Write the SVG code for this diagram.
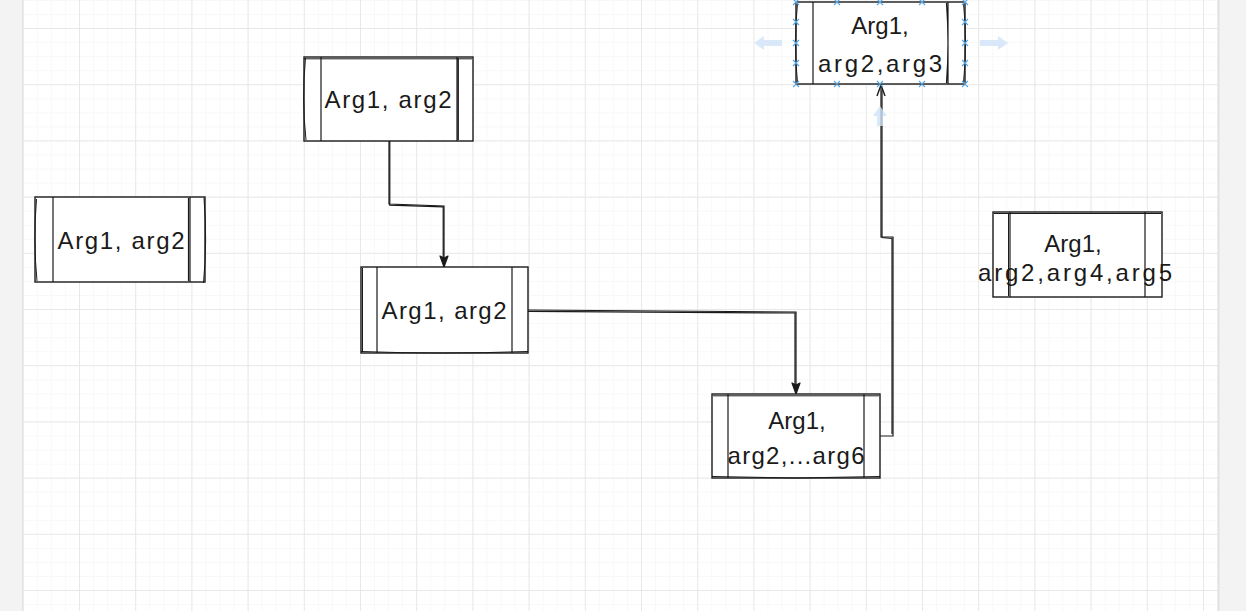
<svg xmlns="http://www.w3.org/2000/svg" width="1246" height="611" viewBox="0 0 1246 611">
  <defs>
    <pattern id="minor" patternUnits="userSpaceOnUse" x="22.8" y="0" width="14.05" height="14.05">
      <path d="M0 0.5H14.05M0.5 0V14.05" fill="none" stroke="#f8f8f8" stroke-width="1"/>
    </pattern>
    <pattern id="major" patternUnits="userSpaceOnUse" x="22.8" y="-28.2" width="56.2" height="56.2">
      <path d="M0 0.5H56.2M0.5 0V56.2" fill="none" stroke="#e8e8e8" stroke-width="1"/>
    </pattern>
    <marker id="arrDown" viewBox="0 0 12 14" refX="6" refY="13" markerWidth="12" markerHeight="14" markerUnits="userSpaceOnUse" orient="0">
      <path d="M2 2L6 13L10 2L6 4Z" fill="#1a1a1a" stroke="#1a1a1a" stroke-width="1.2" stroke-linejoin="round"/>
    </marker>
    <marker id="arrUp" viewBox="0 0 12 14" refX="6" refY="1" markerWidth="12" markerHeight="14" markerUnits="userSpaceOnUse" orient="0">
      <path d="M2 12L6 1L10 12" fill="none" stroke="#1a1a1a" stroke-width="1.4" stroke-linejoin="round"/>
    </marker>
  </defs>
  <style>
    .box { fill: #ffffff; stroke: #1a1a1a; stroke-width: 1.4; }
    .sk { fill: none; stroke: #1a1a1a; stroke-width: 1; }
    .in { fill: none; stroke: #1a1a1a; stroke-width: 1.2; }
    .lbl { font-family: "Liberation Sans", "DejaVu Sans", sans-serif; font-size: 24px; fill: #1a1a1a; text-anchor: middle; }
    .conn { fill: none; stroke: #1a1a1a; stroke-width: 1.2; }
    .h { stroke: #5aa9e6; stroke-width: 1.2; fill: none; }
    .ghost { fill: #cfe4f7; opacity: 0.8; }
  </style>

  <!-- background -->
  <rect x="0" y="0" width="1246" height="611" fill="#f3f3f3"/>
  <rect x="22" y="0" width="1196" height="611" fill="#ffffff"/>
  <rect x="22" y="0" width="1196" height="611" fill="url(#minor)"/>
  <rect x="22" y="0" width="1196" height="611" fill="url(#major)"/>
  <line x1="22.5" y1="0" x2="22.5" y2="611" stroke="#e2e2e2"/>
  <line x1="1218.5" y1="0" x2="1218.5" y2="611" stroke="#e2e2e2" stroke-width="2"/>

  <!-- connectors -->
  <g id="connectors">
    <path class="conn" d="M389 141V204L444 206V267" marker-end="url(#arrDown)"/>
    <path class="conn" d="M389.8 141V205.2L443.2 206.8V262" />
    <path class="conn" d="M528 310L796 312V394" marker-end="url(#arrDown)"/>
    <path class="conn" d="M528 311.4L795 313V389" />
    <path class="conn" d="M880 436H893V237H881V85" marker-end="url(#arrUp)"/>
    <path class="conn" d="M892 434V238.5L882 237.5V90" />
  </g>

  <!-- node 3 (left) -->
  <g id="node-left">
    <rect class="box" x="35" y="197" width="170" height="85"/>
    <path class="sk" d="M36.5 199Q33 240 37 281M204 198Q207.5 240 203.5 283"/>
    <path class="in" d="M53 197V282M190 197V282M188.5 198V281"/>
    <text class="lbl" x="121" y="249" textLength="127" lengthAdjust="spacing">Arg1, arg2</text>
  </g>

  <!-- node 2 -->
  <g id="node-top-left">
    <rect class="box" x="304" y="57" width="169" height="84"/>
    <path class="sk" d="M305.5 58Q301.5 99 306 140M304 58.8H472"/>
    <path class="in" d="M321 57V141M457 57V141M458.3 58V140"/>
    <text class="lbl" x="388" y="108" textLength="127" lengthAdjust="spacing">Arg1, arg2</text>
  </g>

  <!-- node 4 -->
  <g id="node-mid">
    <rect class="box" x="361" y="267" width="167" height="86"/>
    <path class="sk" d="M361 351.5Q440 354.5 528 351.5M362.5 268V352"/>
    <path class="in" d="M377 267V353M512 267V353"/>
    <text class="lbl" x="444" y="319" textLength="125" lengthAdjust="spacing">Arg1, arg2</text>
  </g>

  <!-- node 5 -->
  <g id="node-bottom">
    <rect class="box" x="712" y="394" width="168" height="84"/>
    <path class="sk" d="M713 395.8H879M712 476.5Q796 479.5 880 476.5"/>
    <path class="in" d="M728 394V478M864 394V478"/>
    <text class="lbl" x="797" y="429">Arg1,</text>
    <text class="lbl" x="796" y="464" textLength="137" lengthAdjust="spacing">arg2,...arg6</text>
  </g>

  <!-- node 1 (selected, top) -->
  <g id="node-top">
    <rect class="box" x="796" y="2" width="169" height="82"/>
    <path class="sk" d="M797.5 3Q793.5 43 797.5 83M963.5 3Q967.5 43 963.5 83"/>
    <path class="in" d="M813 2V84M948 2V84M946.5 3Q949.5 43 946.5 83"/>
    <text class="lbl" x="880" y="34">Arg1,</text>
    <text class="lbl" x="880" y="72" textLength="124" lengthAdjust="spacing">arg2,arg3</text>
  </g>

  <!-- node 6 (right) -->
  <g id="node-right">
    <rect class="box" x="993" y="212" width="169" height="85"/>
    <path class="sk" d="M994 213.5H1161M1008.5 213V296"/>
    <path class="in" d="M1010 212V297M1145 212V297"/>
    <text class="lbl" x="1073" y="252">Arg1,</text>
    <text class="lbl" x="1075" y="281" textLength="194" lengthAdjust="spacing">arg2,arg4,arg5</text>
  </g>

  <!-- selection handles on node 1 -->
  <g id="selection">
    <path class="ghost" d="M754 43L764 36V40H782V46H764V50Z"/>
    <path class="ghost" d="M1008 43L998 36V40H980V46H998V50Z"/>
    <path class="ghost" d="M880 106L873 116H877V126H883V116H887Z" opacity="0.5"/>
    <g class="h">
      <path d="M793 -1l6 6m0 -6l-6 6M834 -1l6 6m0 -6l-6 6M877 -1l6 6m0 -6l-6 6M919 -1l6 6m0 -6l-6 6M962 -1l6 6m0 -6l-6 6"/>
      <path d="M793 81l6 6m0 -6l-6 6M834 81l6 6m0 -6l-6 6M877 81l6 6m0 -6l-6 6M919 81l6 6m0 -6l-6 6M962 81l6 6m0 -6l-6 6"/>
      <path d="M793 19l6 6m0 -6l-6 6M793 40l6 6m0 -6l-6 6M793 60l6 6m0 -6l-6 6"/>
      <path d="M962 19l6 6m0 -6l-6 6M962 40l6 6m0 -6l-6 6M962 60l6 6m0 -6l-6 6"/>
    </g>
  </g>
</svg>
